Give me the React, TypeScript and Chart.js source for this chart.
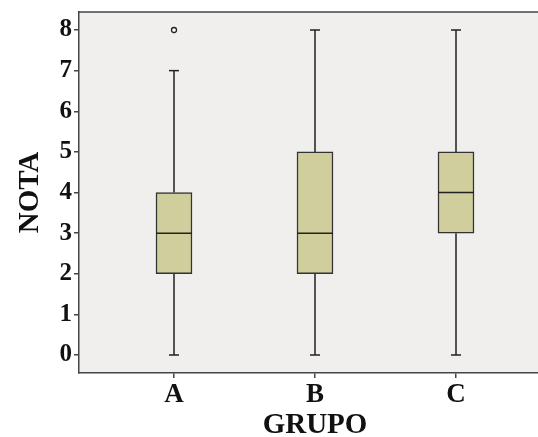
import { useEffect, useRef } from 'react';
import { Chart, registerables } from 'chart.js';

Chart.register(...registerables);

const groups = ['A', 'B', 'C'];
const positions = [1, 2, 3];
const mins = [0, 0, 0];
const q1s = [2, 2, 3];
const medians = [3, 3, 4];
const q3s = [4, 5, 5];
const maxs = [7, 8, 8];
const outlierGroups = [0];
const outlierValues = [8];
const yTicks = [0, 1, 2, 3, 4, 5, 6, 7, 8];

const LINE = '#222222';
const FONT = "'Liberation Serif', 'Times New Roman', serif";

export default function App() {
  const ref = useRef<HTMLCanvasElement | null>(null);

  useEffect(() => {
    if (!ref.current) return;

    const whiskerData: any[] = [];
    positions.forEach((x, i) => {
      whiskerData.push({ x, y: mins[i] }, { x, y: q1s[i] }, { x, y: null });
      whiskerData.push({ x, y: q3s[i] }, { x, y: maxs[i] }, { x, y: null });
    });
    const capData: any[] = [];
    positions.forEach((x, i) => {
      capData.push({ x, y: mins[i] }, { x, y: maxs[i] });
    });

    const bgPlugin = {
      id: 'plotBg',
      beforeDraw(chart: any) {
        const { ctx, chartArea } = chart;
        ctx.save();
        ctx.fillStyle = '#f0efed';
        ctx.fillRect(chartArea.left, chartArea.top, chartArea.right - chartArea.left, chartArea.bottom - chartArea.top);
        ctx.restore();
      },
      afterDraw(chart: any) {
        const { ctx, chartArea } = chart;
        ctx.save();
        ctx.strokeStyle = '#444444';
        ctx.lineWidth = 1.5;
        ctx.beginPath();
        ctx.moveTo(chartArea.left, chartArea.top);
        ctx.lineTo(chartArea.right, chartArea.top);
        ctx.stroke();
        ctx.restore();
      },
    };

    const chart = new Chart(ref.current, {
      type: 'bar',
      data: {
        datasets: [
          {
            type: 'line',
            data: whiskerData,
            borderColor: LINE,
            borderWidth: 1.5,
            pointRadius: 0,
            spanGaps: false,
            order: 5,
          } as any,
          {
            type: 'bar',
            data: positions.map((x, i) => ({ x, y: [q1s[i], q3s[i]] })),
            backgroundColor: '#d0ce9c',
            borderColor: '#333333',
            borderWidth: 1.5,
            borderSkipped: false,
            barThickness: 36,
            grouped: false,
            order: 4,
          } as any,
          {
            type: 'scatter',
            data: positions.map((x, i) => ({ x, y: medians[i] })),
            pointStyle: 'line',
            radius: 18,
            borderColor: LINE,
            borderWidth: 1.5,
            order: 1,
          } as any,
          {
            type: 'scatter',
            data: capData,
            pointStyle: 'line',
            radius: 5,
            borderColor: LINE,
            borderWidth: 1.5,
            order: 1,
          } as any,
          {
            type: 'scatter',
            data: outlierGroups.map((g, i) => ({ x: positions[g], y: outlierValues[i] })),
            pointStyle: 'circle',
            radius: 2.5,
            backgroundColor: '#ffffff',
            borderColor: LINE,
            borderWidth: 1.3,
            order: 1,
          } as any,
        ],
      },
      options: {
        animation: false,
        responsive: false,
        maintainAspectRatio: false,
        layout: { autoPadding: false, padding: { top: 12, left: 0, right: 0, bottom: 0 } },
        plugins: { legend: { display: false }, tooltip: { enabled: false } },
        scales: {
          x: {
            type: 'linear',
            offset: false,
            min: 1 - 95 / 141,
            max: 3 + 95 / 141,
            afterBuildTicks: (s: any) => {
              s.ticks = positions.map((v) => ({ value: v }));
            },
            afterFit: (s: any) => {
              s.height = 64;
            },
            grid: { display: true, offset: false, drawOnChartArea: false, drawTicks: true, tickLength: 5, color: '#444444', lineWidth: 1.5 },
            border: { display: true, color: '#444444', width: 1.5 },
            ticks: {
              padding: 1,
              color: '#111111',
              font: { family: FONT, size: 27, weight: 'bold' },
              callback: (v: any) => groups[positions.indexOf(Number(v))] ?? '',
            },
            title: {
              display: true,
              text: 'GRUPO',
              color: '#111111',
              font: { family: FONT, size: 29, weight: 'bold', lineHeight: 1 },
              padding: { top: 0, bottom: -3 },
            },
          },
          y: {
            type: 'linear',
            min: -18 / 40.625,
            max: 8 + 18 / 40.625,
            afterBuildTicks: (s: any) => {
              s.ticks = yTicks.map((v) => ({ value: v }));
            },
            afterFit: (s: any) => {
              s.width = 79;
            },
            grid: { display: true, drawOnChartArea: false, drawTicks: true, tickLength: 5, color: '#444444', lineWidth: 1.5 },
            border: { display: true, color: '#444444', width: 1.5 },
            ticks: {
              padding: 2,
              color: '#111111',
              font: { family: FONT, size: 25, weight: 'bold', lineHeight: 0.8 },
            },
            title: {
              display: true,
              text: 'NOTA',
              color: '#111111',
              font: { family: FONT, size: 29, weight: 'bold', lineHeight: 1 },
              padding: { top: 16, bottom: 0 },
            },
          },
        },
      } as any,
      plugins: [bgPlugin],
    });

    return () => chart.destroy();
  }, []);

  return (
    <div style={{ position: 'fixed', left: 0, top: 0, width: 538, height: 437, overflow: 'hidden', background: '#ffffff' }}>
      <canvas ref={ref} width={551} height={437} style={{ width: 551, height: 437, display: 'block' }} />
    </div>
  );
}
